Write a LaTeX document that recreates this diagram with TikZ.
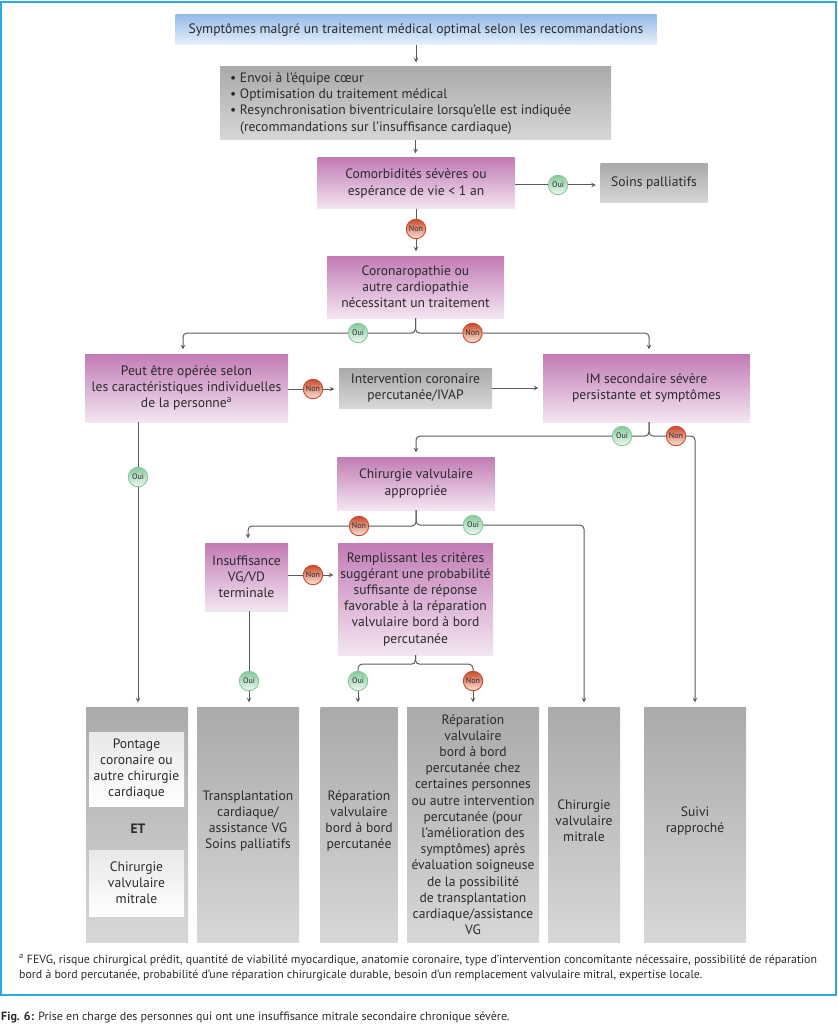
\documentclass[tikz,border=0pt]{standalone}
\usepackage{fontspec}
\setmainfont{PT Sans}
\usetikzlibrary{positioning}
\usetikzlibrary{arrows,calc}
\definecolor{wirecol}{HTML}{5A5B5D}
\definecolor{framecol}{HTML}{29ABE2}
\definecolor{inkcol}{HTML}{2B2A2C}
\definecolor{bluetop}{HTML}{95BCE8}
\definecolor{bluebot}{HTML}{E8F0FA}
\definecolor{greytop}{HTML}{A9AAAC}
\definecolor{greybot}{HTML}{D6D7D9}
\definecolor{pinktop}{HTML}{C27BB4}
\definecolor{pinkbot}{HTML}{F3E6F2}
\definecolor{ouitop}{HTML}{86C99B}
\definecolor{ouibot}{HTML}{F0F9F2}
\definecolor{nontop}{HTML}{C9492B}
\definecolor{nonbot}{HTML}{FBE6DC}
\begin{document}
\begin{tikzpicture}[x=1pt,y=-1pt, %one unit is one pixel of the page
every node/.style={text=inkcol,font=\fontsize{13.6}{16.2}\selectfont,inner sep=0pt,align=center},
blockblue/.style ={rectangle, top color=bluetop, bottom color=bluebot},
blockgrey/.style ={rectangle, top color=greytop, bottom color=greybot},
blockpink/.style ={rectangle, top color=pinktop, bottom color=pinkbot},
blockwhite/.style ={rectangle, top color=black!9, bottom color=white},
oui/.style ={circle, draw=ouitop, line width=.9pt, top color=ouitop, bottom color=ouibot, minimum size=19.5pt, font=\fontsize{8}{8}\selectfont},
non/.style ={circle, draw=nontop, line width=.9pt, top color=nontop, bottom color=nonbot, minimum size=19.5pt, font=\fontsize{8}{8}\selectfont},
wire/.style ={draw=wirecol, line width=1pt, rounded corners=4pt},
arrow/.style ={wire, ->, >=stealth, shorten >=4.5pt}
]
\useasboundingbox (0,0) rectangle (837,1024);
%frame
\draw[framecol, line width=2pt] (1,2) rectangle (836,995);
%top boxes
\draw (416,30) node[blockblue, minimum width=481pt, minimum height=30pt] (sympt) {Symptômes malgré un traitement médical optimal selon les recommandations};
\draw (415.5,103.5) node[blockgrey, minimum width=391pt, minimum height=73pt] (envoi) {};
\draw (230,103.5) node[anchor=west, align=left] (envoitxt) {• Envoi à l'équipe cœur\\• Optimisation du traitement médical\\• Resynchronisation biventriculaire lorsqu'elle est indiquée\\\hspace*{10pt}(recommandations sur l'insuffisance cardiaque)};
\draw (416,183.5) node[blockpink, minimum width=197pt, minimum height=51pt] (comorb) {Comorbidités sévères ou\\espérance de vie < 1 an};
\draw (654,183.5) node[blockgrey, minimum width=107pt, minimum height=39pt] (soins) {Soins palliatifs};
\draw (558,185) node[oui] (ouiA) {Oui};
\draw (416,229) node[non] (nonA) {Non};
\draw (415.5,287) node[blockpink, minimum width=177pt, minimum height=62pt] (coro) {Coronaropathie ou\\autre cardiopathie\\nécessitant un traitement};
%middle row
\draw (186.5,388) node[blockpink, minimum width=203pt, minimum height=68pt] (peut) {Peut être opérée selon\\les caractéristiques individuelles\\de la personne\textsuperscript{a}};
\draw (415.5,388) node[blockgrey, minimum width=153pt, minimum height=40pt] (interv) {Intervention coronaire\\percutanée/IVAP};
\draw (646.5,388) node[blockpink, minimum width=207pt, minimum height=68pt] (imsec) {IM secondaire sévère\\persistante et symptômes};
\draw (358,333) node[oui] (ouiC) {Oui};
\draw (472.5,333) node[non] (nonC) {Non};
\draw (313,389) node[non] (nonP) {Non};
\draw (138,477) node[oui] (ouiP) {Oui};
\draw (622,436) node[oui] (ouiI) {Oui};
\draw (676,436) node[non] (nonI) {Non};
%chirurgie and below
\draw (416,483.5) node[blockpink, minimum width=157pt, minimum height=53pt] (chir) {Chirurgie valvulaire\\appropriée};
\draw (359,526) node[non] (nonH) {Non};
\draw (473,525) node[oui] (ouiH) {Oui};
\draw (246.5,577) node[blockpink, minimum width=83pt, minimum height=68pt] (insuf) {Insuffisance\\VG/VD\\terminale};
\draw (415.5,599) node[blockpink, minimum width=155pt, minimum height=112pt] (rempl) {Remplissant les critères\\suggérant une probabilité\\suffisante de réponse\\favorable à la réparation\\valvulaire bord à bord\\percutanée};
\draw (313,575) node[non] (nonV) {Non};
\draw (249,681) node[oui] (ouiV) {Oui};
\draw (358,681) node[oui] (ouiR) {Oui};
\draw (473,681) node[non] (nonR) {Non};
%bottom columns
\draw (137,824.5) node[blockgrey, minimum width=102pt, minimum height=235pt] (colA) {};
\draw (248,824.5) node[blockgrey, minimum width=102pt, minimum height=235pt] (colB) {};
\draw (248,821) node (colBtxt) {Transplantation\\cardiaque/\\assistance VG\\Soins palliatifs};
\draw (359,824.5) node[blockgrey, minimum width=77pt, minimum height=235pt] (colC) {};
\draw (359,821) node (colCtxt) {Réparation\\valvulaire\\bord à bord\\percutanée};
\draw (473,824.5) node[blockgrey, minimum width=132pt, minimum height=235pt] (colD) {Réparation\\valvulaire\\bord à bord\\percutanée chez\\certaines personnes\\ou autre intervention\\percutanée (pour\\l'amélioration des\\symptômes) après\\évaluation soigneuse\\de la possibilité\\de transplantation\\cardiaque/assistance\\VG};
\draw (584,824.5) node[blockgrey, minimum width=72pt, minimum height=235pt] (colE) {};
\draw (584,821) node (colEtxt) {Chirurgie\\valvulaire\\mitrale};
\draw (695,824.5) node[blockgrey, minimum width=102pt, minimum height=235pt] (colF) {};
\draw (695,821) node (colFtxt) {Suivi\\rapproché};
\draw (136.5,769) node[blockwhite, minimum width=95pt, minimum height=74pt] (pont) {Pontage\\coronaire ou\\autre chirurgie\\cardiaque};
\draw (138,829) node[font=\fontsize{13.6}{16.2}\selectfont\bfseries] (et) {ET};
\draw (136.5,883) node[blockwhite, minimum width=95pt, minimum height=66pt] (valv) {Chirurgie\\valvulaire\\mitrale};
%straight arrows
\draw[arrow] (sympt) -- (sympt |- envoi.north);
\draw[arrow] (envoi) -- (envoi |- comorb.north);
\draw[wire] (comorb.east |- ouiA) -- (ouiA);
\draw[arrow] (ouiA) -- (soins.west |- ouiA);
\draw[wire] (comorb) -- (nonA);
\draw[arrow] (nonA) -- (nonA |- coro.north);
\draw[wire] (peut.east |- nonP) -- (nonP);
\draw[arrow] (nonP) -- (interv.west |- nonP);
\draw[arrow] (interv) -- (imsec.west |- interv);
\draw[wire] (ouiP |- peut.south) -- (ouiP);
\draw[arrow] (ouiP) -- (ouiP |- colA.north);
\draw[wire] (insuf.east |- nonV) -- (nonV);
\draw[arrow] (nonV) -- (rempl.west |- nonV);
\draw[wire] (ouiV |- insuf.south) -- (ouiV);
\draw[arrow] (ouiV) -- (ouiV |- colB.north);
\draw[arrow] (ouiR) -- (ouiR |- colC.north);
\draw[arrow] (nonR) -- (nonR |- colD.north);
%splits
\draw[wire] (coro.south) |- (ouiC);
\draw[wire] (coro.south) |- (nonC);
\draw[arrow] (ouiC) -| ([xshift=-3.5pt]peut.north);
\draw[arrow] (nonC) -| ([xshift=2.5pt]imsec.north);
\draw[wire] ([xshift=2.5pt]imsec.south) |- (ouiI);
\draw[wire] ([xshift=2.5pt]imsec.south) |- (nonI);
\draw[arrow] (ouiI) -| (chir.north);
\draw[arrow] (nonI) -| (colF.north);
\draw[wire] (chir.south) |- (nonH);
\draw[wire] (chir.south) |- (ouiH);
\draw[arrow] (nonH) -| ([xshift=1.5pt]insuf.north);
\draw[arrow] (ouiH) -| (colE.north);
\draw[wire] (rempl.south) -- ++(0,9) -| (ouiR);
\draw[wire] (rempl.south) -- ++(0,9) -| (nonR);
%footnote and caption
\draw (19,967.5) node[anchor=west, align=left, font=\fontsize{11.85}{15}\selectfont] (fnote) {\textsuperscript{a} FEVG, risque chirurgical prédit, quantité de viabilité myocardique, anatomie coronaire, type d'intervention concomitante nécessaire, possibilité de réparation\\bord à bord percutanée, probabilité d'une réparation chirurgicale durable, besoin d'un remplacement valvulaire mitral, expertise locale.};
\draw (1,1017) node[anchor=west, align=left, font=\fontsize{12}{13}\selectfont] (capt) {\textbf{Fig. 6:} Prise en charge des personnes qui ont une insuffisance mitrale secondaire chronique sévère.};
\end{tikzpicture}
\end{document}
